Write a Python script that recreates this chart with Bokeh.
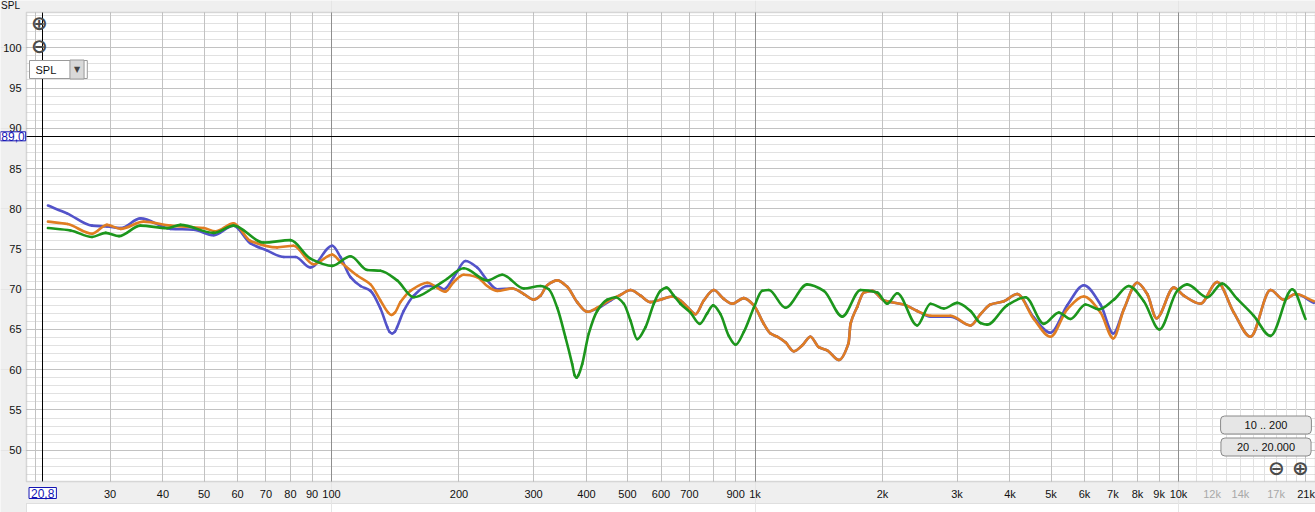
import math
from bokeh.plotting import figure
from bokeh.models import Range1d, FixedTicker, Grid, Label, BoxAnnotation, ColumnDataSource, LogScale
from bokeh.core.properties import value
from bokeh.embed import file_html
from bokeh.resources import INLINE

# ---------------- data ----------------
blue_freq = [21.4, 23.8, 27.2, 29.5, 31.8, 35.4, 41.7, 47.2, 52.7, 58.7,
             64.4, 70.5, 77.2, 82.2, 89.2, 100.4, 105.0, 110.9, 117.1, 123.6,
             130.5, 135.4, 137.1, 139.1, 141.0, 142.9, 148.1, 156.4, 168.3, 177.6, 184.2, 194.4,
             207.2, 220.8, 233.2, 246.2, 267.2, 284.6, 300.4, 311.5, 323.1, 341.2,
             360.2, 380.3, 401.7, 424.0, 455.8, 481.4, 508.2, 536.7, 566.5, 598.3,
             637.4, 666.8, 697.6, 723.5, 756.9, 799, 843.8, 884, 941.0, 993.6,
             1049, 1088, 1128, 1180, 1235, 1292, 1352, 1415, 1481, 1578,
             1663, 1681, 1743, 1807, 1892, 2015, 2246, 2415, 2597, 2894,
             3228, 3408, 3598, 3868, 4161, 4553, 4986, 5461, 5977, 6544,
             7013, 7429, 7990, 8436, 8874, 9748, 10290, 11270, 12340, 13510,
             14790, 16490, 17730, 18890, 20870]
blue_spl = [80.4, 79.4, 77.9, 77.8, 77.6, 78.8, 77.5, 77.4, 76.7, 77.9,
            75.7, 74.8, 74.0, 74.0, 72.7, 75.4, 74.0, 71.5, 70.4, 69.8,
            67.6, 65.3, 64.7, 64.5, 64.7, 65.3, 67.3, 69.2, 70.4, 70.4, 70.0, 71.5,
            73.5, 72.7, 71.1, 70.0, 70.1, 69.4, 68.7, 69.2, 70.5, 71.1,
            70.3, 68.4, 67.2, 67.6, 68.6, 69.3, 69.9, 69.2, 68.4, 68.7,
            69.1, 68.6, 67.6, 66.9, 68.6, 69.9, 68.8, 68.2, 68.9, 68.0,
            65.7, 64.5, 64.1, 63.4, 62.3, 63.0, 64.1, 62.8, 62.4, 61.2,
            63.3, 65.7, 67.8, 69.6, 69.8, 68.6, 68.1, 67.3, 66.6, 66.6,
            65.5, 66.9, 68.1, 68.5, 69.4, 66.5, 64.6, 68.0, 70.5, 68.1,
            64.5, 67.5, 70.8, 69.4, 66.4, 70.2, 69.2, 68.2, 70.9, 67.1,
            64.1, 69.9, 68.7, 69.4, 68.3]

orange_freq = [21.4, 23.8, 27.2, 29.5, 31.8, 36.0, 41.7, 49.9, 53.2, 58.7,
               64.4, 74.4, 81.3, 90.7, 100.4, 105.0, 115.0, 123.6, 130.5, 136.1, 138.6, 141.2,
               145.5, 153.6, 168.3, 185.8, 194.4, 205.3, 220.8, 233.2, 246.2, 267.2,
               284.6, 300.4, 311.5, 323.1, 341.2, 360.2, 380.3, 401.7, 424.0, 455.8,
               481.4, 508.2, 536.7, 566.5, 598.3, 637.4, 666.8, 697.6, 723.5, 756.9,
               799, 843.8, 884, 941.0, 993.6, 1049, 1088, 1128, 1180, 1235,
               1292, 1352, 1415, 1481, 1578, 1663, 1681, 1743, 1807, 1892,
               2015, 2246, 2415, 2597, 2894, 3228, 3408, 3598, 3868, 4161,
               4553, 4986, 5461, 5977, 6544, 7013, 7429, 7990, 8436, 8874,
               9748, 10290, 11270, 12340, 13510, 14790, 16490, 17730, 18890, 20870]
orange_spl = [78.4, 78.1, 76.9, 78.0, 77.5, 78.4, 77.9, 77.6, 77.2, 78.2,
              76.0, 75.2, 75.4, 73.1, 74.3, 73.4, 71.7, 70.6, 68.6, 67.1, 66.8, 67.1,
              68.4, 69.8, 70.8, 69.7, 70.9, 71.8, 71.5, 70.4, 69.8, 70.1,
              69.4, 68.7, 69.2, 70.5, 71.1, 70.3, 68.4, 67.2, 67.7, 68.7,
              69.3, 69.9, 69.2, 68.4, 68.7, 69.1, 68.6, 67.6, 66.9, 68.6,
              69.9, 68.8, 68.2, 68.9, 68.0, 65.7, 64.5, 64.1, 63.4, 62.3,
              63.0, 64.1, 62.8, 62.4, 61.2, 63.3, 65.7, 67.8, 69.6, 69.8,
              68.6, 68.1, 67.3, 66.7, 66.7, 65.5, 66.9, 68.1, 68.5, 69.4,
              66.3, 64.1, 67.5, 69.1, 67.1, 63.9, 67.5, 70.8, 69.4, 66.4,
              70.2, 69.2, 68.2, 70.9, 67.1, 64.1, 69.9, 68.7, 69.4, 68.5]

green_freq = [21.4, 24.2, 27.2, 29.3, 31.5, 35.4, 40.9, 44.0, 52.7, 58.7,
              69.1, 80.0, 89.2, 100.4, 110.9, 121.4, 130.5, 142.9, 156.4, 174.4,
              187.6, 205.3, 233.2, 253.0, 284.6, 311.5, 325.9, 341.2, 356.9, 370.1,
              375.2, 378.9, 382.6, 390.8, 405.1, 424.0, 447.7, 468.4, 490.0, 508.2, 527.1, 551.5,
              576.8, 598.3, 618.0, 643.0, 666.8, 704.1, 740.8, 771.0, 796.6, 828.8,
              867.1, 899.5, 941.0, 993.6, 1040, 1078, 1180, 1328, 1454, 1607,
              1775, 1944, 2052, 2167, 2415, 2597, 2792, 3002, 3228, 3408,
              3534, 3939, 4353, 4807, 5217, 5559, 6031, 6484, 7035, 7629,
              8281, 9019, 9929, 10480, 11690, 12680, 13760, 15060, 16490, 18560,
              19950]
green_spl = [77.6, 77.3, 76.5, 77.0, 76.6, 77.9, 77.6, 78.0, 77.0, 77.9,
             75.8, 76.1, 73.8, 72.9, 74.1, 72.4, 72.3, 71.1, 69.0, 70.2,
             71.3, 72.6, 71.1, 71.8, 70.1, 70.4, 70.0, 67.7, 64.0, 60.7,
             59.3, 59.0, 59.3, 60.7, 64.5, 67.3, 68.7, 69.0, 68.2, 66.1, 63.8, 65.3,
             68.2, 69.8, 70.2, 69.2, 68.2, 67.1, 65.7, 67.0, 68.0, 66.9,
             64.2, 63.1, 64.7, 67.7, 69.8, 69.9, 67.7, 70.6, 69.8, 66.6,
             69.9, 69.6, 68.2, 69.5, 65.5, 68.2, 67.6, 68.3, 67.3, 65.8,
             65.6, 68.0, 69.0, 65.7, 67.1, 66.3, 68.1, 67.5, 68.7, 70.4,
             68.5, 65.0, 69.8, 70.6, 69.0, 70.7, 68.8, 66.7, 64.2, 70.0,
             66.3]

x_tick_values = [30, 40, 50, 60, 70, 80, 90, 100, 200, 300, 400, 500, 600, 700, 900,
                 1000, 2000, 3000, 4000, 5000, 6000, 7000, 8000, 9000, 10000]
x_tick_labels = ["30", "40", "50", "60", "70", "80", "90", "100", "200", "300", "400", "500",
                 "600", "700", "900", "1k", "2k", "3k", "4k", "5k", "6k", "7k", "8k", "9k", "10k"]
gray_tick_values = [12000, 14000, 17000]
gray_tick_labels = ["12k", "14k", "17k"]
end_tick_values = [21000]
end_tick_labels = ["21k"]
y_tick_values = [50, 55, 60, 65, 70, 75, 80, 85, 90, 95, 100]
y_tick_labels = ["50", "55", "60", "65", "70", "75", "80", "85", "90", "95", "100"]
y_minor_values = list(range(47, 105))
x_grid_values = [20, 30, 40, 50, 60, 70, 80, 90, 200, 300, 400, 500, 600, 700, 800, 900,
                 2000, 3000, 4000, 5000, 6000, 7000, 8000, 9000, 20000]
x_decade_values = [100, 1000, 10000]
x_fine_values = [11000, 12000, 13000, 14000, 15000, 16000, 17000, 18000, 19000]
cursor_freq = 20.8
cursor_spl = 89.0
cursor_freq_text = "20,8"
cursor_spl_text = "89,0"
y_title = "SPL"

# ---------------- layout helpers (pixel -> data, for placement only) ----------------
W, H = 1315, 512
FRAME_L, FRAME_R, FRAME_T, FRAME_B = 26, 1315, 12, 481
HZ100_PX, PX_PER_DECADE = 331.0, 423.5
DB100_PX, PX_PER_DB = 47.3, 8.048


def fx(px):
    return 100.0 * 10 ** ((px - HZ100_PX) / PX_PER_DECADE)


def fy(py):
    return 100.0 - (py - DB100_PX) / PX_PER_DB


FONT = "Liberation Sans"
PLOT_X = (fx(FRAME_L), fx(FRAME_R))
PLOT_Y = (fy(FRAME_B), fy(FRAME_T))

p = figure(width=W, height=H, x_axis_type="log", x_axis_location=None, y_axis_location=None,
           x_range=Range1d(fx(0), fx(W)), y_range=Range1d(fy(H), fy(0)),
           output_backend="svg", toolbar_location=None, min_border=0,
           background_fill_color="#efefef", border_fill_color="#efefef",
           outline_line_color=None)
p.x_scale = LogScale()

# white plotting area and the scrollbar strip below it
p.add_layout(BoxAnnotation(left=PLOT_X[0], right=PLOT_X[1], bottom=PLOT_Y[0], top=PLOT_Y[1],
                           fill_color="white", fill_alpha=1.0, line_color=None, level="image"))
p.add_layout(BoxAnnotation(left=PLOT_X[0], right=PLOT_X[1], bottom=fy(H + 6), top=fy(503),
                           fill_color="white", fill_alpha=1.0, line_color="#a8a8a8",
                           line_width=1, level="image"))


def grid(dim, ticks, color, minor=None, minor_color=None):
    g = Grid(dimension=dim, ticker=FixedTicker(ticks=ticks, minor_ticks=minor or []),
             grid_line_color=color, grid_line_width=1,
             cross_bounds=PLOT_Y if dim == 0 else PLOT_X)
    if minor_color:
        g.minor_grid_line_color = minor_color
    p.add_layout(g)


grid(1, y_tick_values, "#c2c2c2", y_minor_values, "#e1e1e1")
grid(0, x_fine_values, "#e1e1e1")
grid(0, x_grid_values, "#c2c2c2")
grid(0, x_decade_values, "#8e8e8e")
grid(1, [cursor_spl], "#000000")
grid(0, [cursor_freq], "#000000")

# plot frame outline
p.add_layout(BoxAnnotation(left=PLOT_X[0], right=PLOT_X[1], bottom=PLOT_Y[0], top=PLOT_Y[1],
                           fill_alpha=0.0, line_color="#8a8a8a", line_width=1.5, level="guide"))


# curves: smooth (shape-preserving cubic) segments through the read points
def smooth_curve(freqs, spls, color):
    lx = [math.log10(f) for f in freqs]
    n = len(lx)
    d = [(spls[i + 1] - spls[i]) / (lx[i + 1] - lx[i]) for i in range(n - 1)]
    m = [d[0]]
    for i in range(1, n - 1):
        if d[i - 1] * d[i] <= 0:
            m.append(0.0)
        else:
            m.append(2 * d[i - 1] * d[i] / (d[i - 1] + d[i]))
    m.append(d[-1])
    cols = {k: [] for k in ("x0", "y0", "x1", "y1", "cx0", "cy0", "cx1", "cy1")}
    for i in range(n - 1):
        h = lx[i + 1] - lx[i]
        cols["x0"].append(freqs[i])
        cols["y0"].append(spls[i])
        cols["x1"].append(freqs[i + 1])
        cols["y1"].append(spls[i + 1])
        cols["cx0"].append(10 ** (lx[i] + h / 3))
        cols["cy0"].append(spls[i] + m[i] * h / 3)
        cols["cx1"].append(10 ** (lx[i + 1] - h / 3))
        cols["cy1"].append(spls[i + 1] - m[i + 1] * h / 3)
    p.bezier(x0="x0", y0="y0", x1="x1", y1="y1", cx0="cx0", cy0="cy0", cx1="cx1", cy1="cy1",
             source=ColumnDataSource(cols), line_color=color, line_width=2.6, line_cap="round")


smooth_curve(blue_freq, blue_spl, "#5353c9")
smooth_curve(orange_freq, orange_spl, "#e07d22")
smooth_curve(green_freq, green_spl, "#1c961c")

# tick labels, positioned through the scales
X_ROW = fy(493)
Y_COL = fx(21)


def tick_text(xs, ys, texts, align, color):
    src = ColumnDataSource(dict(x=xs, y=ys, t=texts))
    p.text(x="x", y="y", text="t", source=src, text_align=align, text_baseline="middle",
           text_font=value(FONT), text_font_size="11px", text_color=color)


tick_text(x_tick_values, [X_ROW] * len(x_tick_values), x_tick_labels, "center", "#111111")
tick_text(gray_tick_values, [X_ROW] * len(gray_tick_values), gray_tick_labels, "center", "#a8a8a8")
tick_text(end_tick_values, [X_ROW] * len(end_tick_values), end_tick_labels, "right", "#111111")
tick_text([Y_COL] * len(y_tick_values), y_tick_values, y_tick_labels, "right", "#111111")


def lab(text, x, y, align="center", baseline="middle", size="11px", color="#111111",
        font=FONT, style="normal", **kw):
    p.add_layout(Label(x=x, y=y, text=text, text_align=align, text_baseline=baseline,
                       text_font_size=size, text_color=color, text_font=font,
                       text_font_style=style, **kw))


# cursor value boxes
lab(cursor_spl_text, fx(12.5), cursor_spl, size="12px", color="#1414b4",
    background_fill_color="white", border_line_color="#1414b4",
    padding={"left": 1, "right": 1, "top": 0, "bottom": 0})
lab(cursor_freq_text, cursor_freq, fy(492.5), size="12px", color="#1414b4",
    background_fill_color="white", border_line_color="#1414b4",
    padding={"left": 2, "right": 2, "top": 1, "bottom": 1})

# axis title
lab(y_title, fx(10), fy(5), size="10px")

# SPL dropdown
lab(y_title, fx(29), fy(69), align="left", background_fill_color="white",
    border_line_color="#9a9a9a", padding={"left": 6, "right": 31, "top": 3, "bottom": 3})
lab("\u25bc", fx(76.5), fy(69), size="8px", color="#444444", font="DejaVu Sans",
    background_fill_color="#d9d9d9", border_line_color="#9a9a9a",
    padding={"left": 4, "right": 4, "top": 5, "bottom": 5})

# zoom icons
for ch, px, py in [("\u2295", 39, 22), ("\u2296", 39, 45), ("\u2296", 1276, 467), ("\u2295", 1300, 467)]:
    lab(ch, fx(px), fy(py), size="20px", color="#4a4a4a", font="DejaVu Sans", style="bold")

# range buttons
lab("10 .. 200", fx(1265.5), fy(424.5), background_fill_color="#e6e6e6",
    border_line_color="#8a8a8a", border_radius=4,
    padding={"left": 24, "right": 24, "top": 3, "bottom": 3})
lab("20 .. 20.000", fx(1265.5), fy(446.5), background_fill_color="#e6e6e6",
    border_line_color="#8a8a8a", border_radius=4,
    padding={"left": 16, "right": 16, "top": 3, "bottom": 3})

open("out.html", "w").write(file_html(p, INLINE))
